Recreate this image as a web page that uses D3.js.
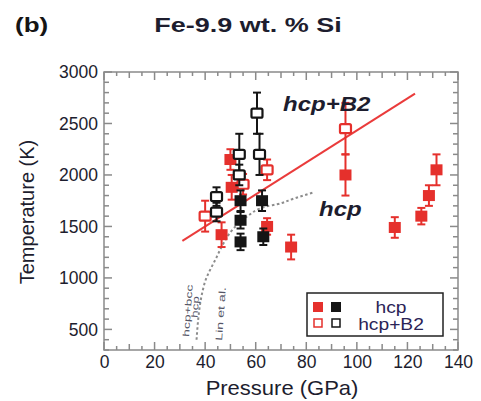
<!DOCTYPE html>
<html><head><meta charset="utf-8">
<script src="https://cdn.jsdelivr.net/npm/d3@7"></script>
<style>
html,body{margin:0;padding:0;background:#fff;}
text{font-family:"Liberation Sans",Arial,sans-serif;}
</style></head>
<body>
<svg id="c" width="481" height="401"></svg>
<script>
// ---- data ----
const xTicks = [0,20,40,60,80,100,120,140];
const yTicks = [500,1000,1500,2000,2500,3000];

// hcp (filled) red
const hcpRedP   = [46.5, 50, 50.5, 64.5, 74, 95.5, 115, 125.5, 128.5, 131.5];
const hcpRedT   = [1420, 2150, 1880, 1500, 1300, 2000, 1490, 1600, 1800, 2050];
const hcpRedErr = [120, 100, 120, 80, 120, 200, 100, 80, 100, 150];
// hcp (filled) black
const hcpBlkP   = [54, 62.5, 54, 54, 63];
const hcpBlkT   = [1750, 1750, 1560, 1350, 1400];
const hcpBlkErr = [100, 100, 80, 80, 80];
// hcp+B2 (open) red
const b2RedP    = [40, 55, 64.5, 95.5];
const b2RedT    = [1600, 1910, 2050, 2450];
const b2RedErr  = [150, 100, 100, 250];
// hcp+B2 (open) black
const b2BlkP    = [44.5, 44.5, 53.5, 53.5, 60.5, 61.5];
const b2BlkT    = [1790, 1640, 2200, 2000, 2600, 2200];
const b2BlkErr  = [90, 90, 200, 100, 200, 200];

// phase boundary (red line)
const lineP = [31, 123];
const lineT = [1360, 2790];
// Lin et al. boundary (dotted)
const curveP = [36.6, 39.8, 44.6, 46.9, 50.9, 56.5, 64.4, 68.4, 75, 82.7];
const curveT = [400, 950, 1205, 1320, 1470, 1595, 1695, 1715, 1770, 1830];

// ---- drawing ----
const svg = d3.select("#c");
const RED = "#e5302c", BLK = "#151515", TXT = "#1d1d2e", FRAME = "#8a8a8a";
const x = d3.scaleLinear().domain([0,140]).range([104,458]);
const y = d3.scaleLinear().domain([300,3000]).range([350,72]);

// frame
svg.append("rect").attr("x",x(0)).attr("y",y(3000)).attr("width",x(140)-x(0)).attr("height",y(300)-y(3000))
  .attr("fill","none").attr("stroke",FRAME).attr("stroke-width",1.5);

// minor ticks
const g = svg.append("g").attr("stroke",FRAME).attr("stroke-width",1.5);
d3.range(0,141,5).forEach(v=>{
  const len = v%20===0 ? 8 : (v%10===0 ? 6 : 4);
  g.append("line").attr("x1",x(v)).attr("x2",x(v)).attr("y1",y(300)).attr("y2",y(300)-len);
  g.append("line").attr("x1",x(v)).attr("x2",x(v)).attr("y1",y(3000)).attr("y2",y(3000)+len);
});
d3.range(300,3001,100).forEach(v=>{
  const len = v%500===0 ? 8 : 5;
  g.append("line").attr("y1",y(v)).attr("y2",y(v)).attr("x1",x(0)).attr("x2",x(0)+len);
  g.append("line").attr("y1",y(v)).attr("y2",y(v)).attr("x1",x(140)).attr("x2",x(140)-len);
});

// axes labels (via d3 axes, no lines)
const ax = svg.append("g").attr("transform",`translate(0,${y(300)})`)
  .call(d3.axisBottom(x).tickValues(xTicks).tickSize(0).tickPadding(6).tickFormat(d3.format("d")));
ax.select(".domain").remove();
ax.selectAll("text").attr("font-size",17.5).attr("fill",TXT).style("font-family","Liberation Sans, Arial, sans-serif");
const ay = svg.append("g").attr("transform",`translate(${x(0)},0)`)
  .call(d3.axisLeft(y).tickValues(yTicks).tickSize(0).tickPadding(6).tickFormat(d3.format("d")));
ay.select(".domain").remove();
ay.selectAll("text").attr("font-size",17.5).attr("fill",TXT).style("font-family","Liberation Sans, Arial, sans-serif");

svg.append("text").attr("transform","translate(282,395) scale(1.1,1)").attr("text-anchor","middle").attr("font-size",20).attr("fill",TXT).text("Pressure (GPa)");
svg.append("text").attr("transform","translate(34,212) rotate(-90)").attr("text-anchor","middle").attr("font-size",20).attr("fill",TXT).text("Temperature (K)");

// title
svg.append("text").attr("transform","translate(15,32) scale(1.3,1)").attr("font-size",20).attr("font-weight","bold").attr("fill",BLK).text("(b)");
svg.append("text").attr("transform","translate(248,32) scale(1.35,1)").attr("text-anchor","middle").attr("font-size",20).attr("font-weight","bold").attr("fill",TXT).text("Fe-9.9 wt. % Si");

// Lin et al. dotted curve
svg.append("path").datum(curveP.map((p,i)=>[p,curveT[i]]))
  .attr("d",d3.line().x(d=>x(d[0])).y(d=>y(d[1])).curve(d3.curveMonotoneY))
  .attr("fill","none").attr("stroke","#8c8c8c").attr("stroke-width",2).attr("stroke-dasharray","2.5,2.5");
svg.append("text").attr("transform","translate(189,337) rotate(-86) scale(1.55,1)").attr("font-size",9).attr("fill","#556").text("hcp+bcc");
svg.append("text").attr("transform","translate(197.5,318) rotate(-86) scale(1.5,1)").attr("font-size",9).attr("fill","#556").text("hcp");
svg.append("text").attr("transform","translate(222,341) rotate(-86) scale(1.5,1)").attr("font-size",9.5).attr("fill","#556").text("Lin et al.");

// red boundary line
svg.append("line").attr("x1",x(lineP[0])).attr("y1",y(lineT[0])).attr("x2",x(lineP[1])).attr("y2",y(lineT[1]))
  .attr("stroke","#ea3b3b").attr("stroke-width",2);

// markers
function errbars(P,T,E,col){
  const gg = svg.append("g").attr("stroke",col).attr("stroke-width",2);
  P.forEach((p,i)=>{
    const cx=x(p), t1=y(T[i]+E[i]), t2=y(T[i]-E[i]);
    gg.append("line").attr("x1",cx).attr("x2",cx).attr("y1",t1).attr("y2",t2);
    gg.append("line").attr("x1",cx-4).attr("x2",cx+4).attr("y1",t1).attr("y2",t1);
    gg.append("line").attr("x1",cx-4).attr("x2",cx+4).attr("y1",t2).attr("y2",t2);
  });
}
function squares(P,T,col,filled){
  const gg = svg.append("g");
  P.forEach((p,i)=>{
    if(filled){
      gg.append("rect").attr("x",x(p)-6).attr("y",y(T[i])-5.5).attr("width",12).attr("height",11).attr("fill",col);
    } else {
      gg.append("rect").attr("x",x(p)-5.5).attr("y",y(T[i])-4.5).attr("width",11).attr("height",9)
        .attr("rx",1.5).attr("fill","#fff").attr("stroke",col).attr("stroke-width",2.2);
    }
  });
}
errbars(hcpRedP,hcpRedT,hcpRedErr,RED); squares(hcpRedP,hcpRedT,RED,true);
errbars(b2RedP,b2RedT,b2RedErr,RED); squares(b2RedP,b2RedT,RED,false);
errbars(hcpBlkP,hcpBlkT,hcpBlkErr,BLK); squares(hcpBlkP,hcpBlkT,BLK,true);
errbars(b2BlkP,b2BlkT,b2BlkErr,BLK); squares(b2BlkP,b2BlkT,BLK,false);

// phase labels
svg.append("text").attr("transform","translate(283,111) scale(1.2,1)").attr("font-size",20).attr("font-weight","bold").attr("font-style","italic").attr("fill",TXT).text("hcp+B2");
svg.append("text").attr("transform","translate(319,216) scale(1.2,1)").attr("font-size",20).attr("font-weight","bold").attr("font-style","italic").attr("fill",TXT).text("hcp");

// legend
const L = svg.append("g");
L.append("rect").attr("x",307).attr("y",293).attr("width",136).attr("height",43).attr("fill","#fff").attr("stroke","#222").attr("stroke-width",1.5);
L.append("rect").attr("x",313).attr("y",302).attr("width",10).attr("height",10).attr("fill",RED);
L.append("rect").attr("x",331).attr("y",302).attr("width",10).attr("height",10).attr("fill",BLK);
L.append("rect").attr("x",314).attr("y",319).attr("width",8).attr("height",8).attr("fill","#fff").attr("stroke",RED).attr("stroke-width",1.5);
L.append("rect").attr("x",332).attr("y",319).attr("width",8).attr("height",8).attr("fill","#fff").attr("stroke",BLK).attr("stroke-width",1.5);
L.append("text").attr("transform","translate(391,313) scale(1.2,1)").attr("text-anchor","middle").attr("font-size",16).attr("fill","#2a2356").text("hcp");
L.append("text").attr("transform","translate(391,330) scale(1.2,1)").attr("text-anchor","middle").attr("font-size",16).attr("fill","#2a2356").text("hcp+B2");
</script>
</body></html>
